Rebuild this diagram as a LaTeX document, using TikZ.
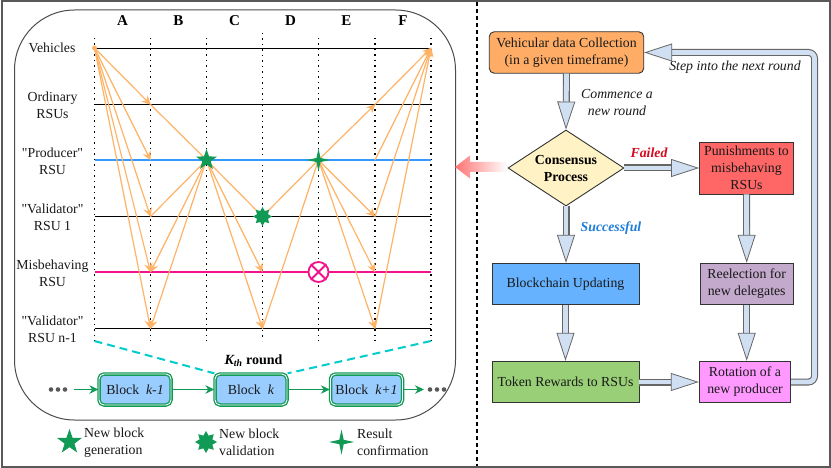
\documentclass[tikz,border=0pt]{standalone}
\usepackage{fontspec}
\setmainfont[Ligatures=TeXOff]{Liberation Serif}
\usetikzlibrary{arrows.meta,shapes.geometric,shadings}
\definecolor{org}{HTML}{FFB366}
\definecolor{grn}{HTML}{109A56}
\definecolor{fatfill}{HTML}{D0DFF2}
\definecolor{fatedge}{HTML}{666666}
\definecolor{pnk}{HTML}{F5108C}
\definecolor{blu}{HTML}{3399FF}
\definecolor{cy}{HTML}{00CCCC}
\tikzset{
  txt/.style={font=\fontsize{13.8}{17}\selectfont,align=center,inner sep=0pt,text=black!90},
  flowbox/.style={draw=black!80,line width=.9pt,inner sep=0pt,txt},
  fat/.style={draw=fatedge,line width=1.1pt,double=fatfill,double distance=4.8pt,
    -{Triangle[length=28pt,width=18pt,fill=fatfill,fatedge,line width=.8pt]}},
  orgl/.style={draw=org,line width=1.2pt},
  orga/.style={orgl,-{Stealth[length=9pt,width=8.5pt,org]},shorten >=-0.5pt},
  vdots/.style={draw=black,line width=1.2pt,dash pattern=on 1.2pt off 4.3pt},
  hline/.style={draw=black,line width=.8pt},
  block/.style={draw=grn,line width=1.3pt,double=white,double distance=.9pt,fill=blu!50,rounded corners=5pt,
    minimum width=72pt,minimum height=31pt,txt},
  garrow/.style={draw=grn,line width=1.2pt,-{Stealth[length=9pt,width=8.5pt,grn]}},
  dashc/.style={draw=cy,line width=2pt,dash pattern=on 8pt off 5pt},
  star5/.style={star,star points=5,star point ratio=2.5,fill=grn,inner sep=0pt,minimum size=#1},
  star8/.style={star,star points=8,star point ratio=1.6,fill=grn,inner sep=0pt,minimum size=#1},
  star4/.style={star,star points=4,star point ratio=4,fill=grn,inner sep=0pt,minimum size=#1},
}
\begin{document}
\begin{tikzpicture}[x=1pt,y=-1pt]
\useasboundingbox (0,0) rectangle (831,468);
\fill[white] (0,0) rectangle (831,468);
\draw[draw=black!65,line width=2pt] (1.5,1.5) rectangle (829.5,466.5);
\draw[draw=black!70,line width=1pt,rounded corners=60pt] (14.5,10) rectangle (455.5,420);
\draw[draw=black,line width=1.2pt,dash pattern=on 4pt off 3pt] (477,2) -- (477,466);
% grid
\foreach \c/\x in {a/94.5,b/150.5,c/206.5,d/262.5,e/318.5,f/375,g/431}{
  \foreach \r/\y in {1/48,2/104.5,3/160,4/216.5,5/272,6/328.5}{
    \coordinate (\c\r) at (\x,\y);
  }
  \coordinate (\c top) at (\x,38);
  \coordinate (\c bot) at (\x,341);
}
\foreach \c in {a,b,c,e,f,g}{\draw[vdots] (\c top) -- (\c bot);}
\coordinate (dtop) at (262.5,33);
\draw[vdots] (dtop) -- (dbot);
\foreach \r in {1,2,4,6}{\draw[hline] (a\r) -- (g\r);}
\draw[draw=blu,line width=2pt] (a3) -- (g3);
\draw[draw=pnk,line width=2pt] (a5) -- (g5);
% column heads
\foreach \n/\x in {A/122.5,B/178.5,C/234.5,D/290.5,E/346.5,F/403}{
  \node[font=\fontsize{15}{17}\selectfont\bfseries,inner sep=0pt] (col\n) at (\x,21) {\n};
}
% row labels
\node[txt] (lv) at (52,48) {Vehicles};
\node[txt] (lo) at (52.5,105) {Ordinary\\RSUs};
\node[txt] (lp) at (52.5,161) {"Producer"\\RSU};
\node[txt] (lv1) at (52.5,217) {"Validator"\\RSU 1};
\node[txt] (lm) at (52.5,273) {Misbehaving\\RSU};
\node[txt] (lvn) at (52.5,329) {"Validator"\\RSU n-1};
% orange arrows
\foreach \t in {b2,b3,b4,b5,b6}{\draw[orga] (a1) -- (\t);}
\draw[orgl] (b2) -- (c3);
\draw[orgl] (b4) -- (c3);
\foreach \t in {b5,b6,d5,d6}{\draw[orga] (c3) -- (\t);}
\draw[orgl] (c3) -- (d4);
\draw[orgl] (d4) -- (e3);
\draw[orgl] (d6) -- (e3);
\foreach \t in {f2,f4,f5,f6}{\draw[orga] (e3) -- (\t);}
\foreach \s in {f2,f3,f4,f6}{\draw[orga] (\s) -- (g1);}
\fill[org] (a1) circle (2.5pt);
% marks
\node[star5=22pt] (s1) at (c3) {};
\node[star8=19pt] (s2) at (d4) {};
\node[star4=23pt] (s3) at (e3) {};
\node[circle,draw=pnk,fill=white,line width=1.8pt,minimum size=20pt,inner sep=0pt] (mis) at (e5) {};
\draw[draw=pnk,line width=1.8pt] (mis.north west) -- (mis.south east) (mis.north east) -- (mis.south west);
% blocks
\node[block] (b1) at (135,389.5) {Block \ \textit{k-1}};
\node[block] (b2n) at (251,389.5) {Block \ \textit{k}};
\node[block] (b3n) at (366.5,389.5) {Block \ \textit{k+1}};
\coordinate (gl) at (74,389.5);
\coordinate (gr) at (424,389.5);
\draw[garrow] (gl) -- (b1.west);
\draw[garrow] (b1.east) -- (b2n.west);
\draw[garrow] (b2n.east) -- (b3n.west);
\draw[garrow] (b3n.east) -- (gr);
\foreach \x in {51,58,65,430,437,444}{\fill[black!65] (\x,389.5) circle (2.3pt);}
\draw[dashc] (abot) -- (b2n.north west);
\draw[dashc] (gbot) -- (b2n.north east);
\node[font=\fontsize{14}{15}\selectfont\bfseries,inner sep=0pt] (kth) at (253.5,361) {\textit{K\textsubscript{th}} round};
% legend
\node[star5=26pt] (l1) at (69.5,442) {};
\node[star8=22pt] (l2) at (206,442) {};
\node[star4=25pt] (l3) at (341.5,442) {};
\node[txt,align=left,anchor=west] (t1) at (84,442.5) {New block\\generation};
\node[txt,align=left,anchor=west] (t2) at (219,442.5) {New block\\validation};
\node[txt,align=left,anchor=west] (t3) at (357,442.5) {Result\\confirmation};
% pink arrow
\path[left color=red!55!white,right color=white,draw=none]
  (455,167) -- (470,155.5) -- (470,162) -- (507,162) -- (507,172) -- (470,172) -- (470,178.5) -- cycle;
% flow
\node[flowbox,rounded corners=5pt,fill={rgb,255:red,255;green,173;blue,102},minimum width=154.5pt,minimum height=41.5pt] (veh) at (566.5,52.5) {Vehicular data Collection\\(in a given timeframe)};
\node[diamond,aspect=1.52,draw=black!80,line width=.9pt,fill={rgb,255:red,255;green,242;blue,196},minimum width=116pt,minimum height=76pt,inner sep=0pt] (con) at (566,168) {};
\node[font=\fontsize{13.8}{17}\selectfont\bfseries,align=center,inner sep=0pt] (contxt) at (con) {Consensus\\Process};
\node[flowbox,fill=red!60!white,minimum width=94pt,minimum height=52pt] (pun) at (746.5,168) {Punishments to\\misbehaving\\RSUs};
\node[flowbox,fill=blu!75!white,minimum width=147pt,minimum height=41.5pt] (chain) at (565.5,284) {Blockchain Updating};
\node[flowbox,fill={rgb,255:red,153;green,208;blue,119},minimum width=147pt,minimum height=41.5pt] (tok) at (565.5,382) {Token Rewards to RSUs};
\node[flowbox,fill={rgb,255:red,195;green,169;blue,204},minimum width=93.5pt,minimum height=41.5pt] (ree) at (746.7,284) {Reelection for\\new delegates};
\node[flowbox,fill={rgb,255:red,255;green,153;blue,255},minimum width=91.5pt,minimum height=41.5pt] (rot) at (745,382) {Rotation of a\\new producer};
\draw[fat] (veh.south) -- (con.north);
\draw[fat] (con.south) -- (chain.north -| con.south);
\draw[fat] (chain.south) -- (tok.north);
\draw[fat] (con.east) -- (pun.west);
\draw[fat] (pun.south) -- (ree.north);
\draw[fat] (ree.south) -- (ree.south |- rot.north);
\draw[fat] (tok.east) -- (rot.west);
\coordinate (cr) at (814.5,382);
\coordinate (ct) at (814.5,52.5);
\draw[fat,rounded corners=6pt] (rot.east) -- (cr) -- (ct) -- (veh.east);
\node[txt,font=\fontsize{13.8}{17}\selectfont\itshape] (n1) at (617,102.5) {Commence a\\new round};
\node[txt,font=\fontsize{13.8}{17}\selectfont\itshape] (n2) at (735,67.5) {Step into the next round};
\node[inner sep=0pt,font=\fontsize{13.8}{17}\selectfont\bfseries\itshape,text={rgb,255:red,210;green,10;blue,30}] (n3) at (649,153) {Failed};
\node[inner sep=0pt,font=\fontsize{13.8}{17}\selectfont\bfseries\itshape,text={rgb,255:red,30;green,125;blue,215}] (n4) at (611,228.5) {Successful};
\end{tikzpicture}
\end{document}
